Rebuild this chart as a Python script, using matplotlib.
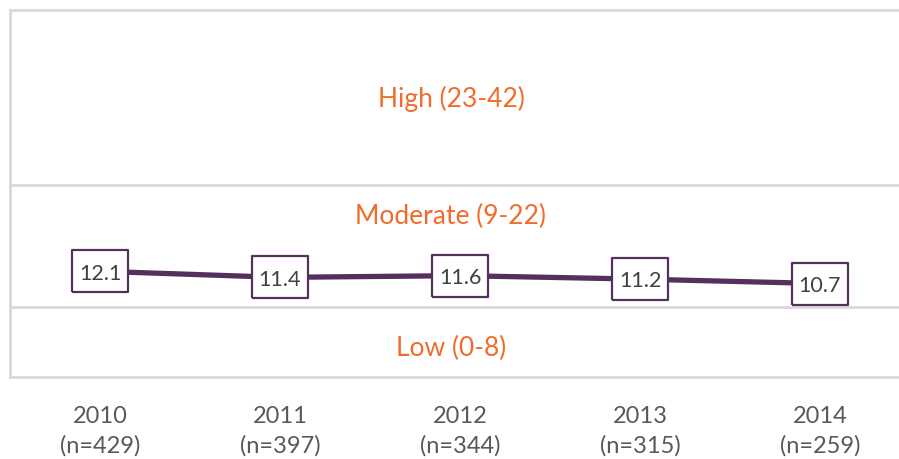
import matplotlib
matplotlib.use("Agg")
import matplotlib.pyplot as plt

years = ["2010", "2011", "2012", "2013", "2014"]
counts = ["n=429", "n=397", "n=344", "n=315", "n=259"]
values = [12.1, 11.4, 11.6, 11.2, 10.7]
band_bounds = [8, 22]
band_labels = ["Low (0-8)", "Moderate (9-22)", "High (23-42)"]
band_label_y = [3.4, 18.5, 31.9]

plt.rcParams['font.family'] = ['Lato', 'DejaVu Sans']

W, H = 899, 460
fig = plt.figure(figsize=(W/100, H/100), dpi=100)
ax = fig.add_axes([10/W, (H-378)/H, (899-10)/W, (378-11)/H])

x = list(range(len(years)))
ax.set_xlim(-0.5, -0.5 + (899-10)/180)
ax.set_ylim(0, 42)

grid_c = '#d9d9d9'
for b in band_bounds:
    ax.axhline(b, color=grid_c, lw=2.0, zorder=1)
for s in ['top', 'bottom', 'left']:
    ax.spines[s].set_color(grid_c)
    ax.spines[s].set_linewidth(2.0)
ax.spines['right'].set_visible(False)

purple = '#55305d'
ax.plot(x, values, color=purple, lw=3.8, zorder=2, solid_capstyle='butt')
rect = [(-1.31, -1), (1.31, -1), (1.31, 1), (-1.31, 1), (-1.31, -1)]
ax.plot(x, values, linestyle='none', marker=rect, markersize=40,
        markerfacecolor='white', markeredgecolor=purple, markeredgewidth=1.6, zorder=3)
for xi, v in zip(x, values):
    ax.text(xi, v - 0.15, f"{v}", ha='center', va='center', fontsize=15.5,
            color='#404040', zorder=4)

orange = '#f26b2b'
for lab, yy in zip(band_labels, band_label_y):
    ax.text(x[2] - 0.05, yy, lab, ha='center', va='center', fontsize=19, color=orange)

ax.set_yticks([])
ax.set_xticks(x)
ax.set_xticklabels([f"{y}\n({c})" for y, c in zip(years, counts)],
                   fontsize=17, color='#595959', linespacing=1.5)
ax.tick_params(axis='x', length=0, pad=20)

fig.savefig('out.png', dpi=100, facecolor='white')
